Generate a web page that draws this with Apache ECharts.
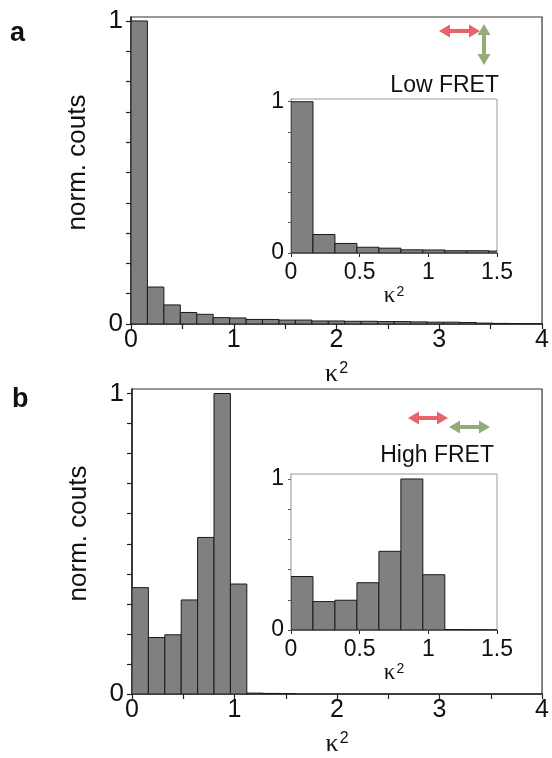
<!DOCTYPE html>
<html>
<head>
<meta charset="utf-8">
<script src="https://cdn.jsdelivr.net/npm/echarts@6/dist/echarts.min.js"></script>
<style>
  html, body { margin: 0; padding: 0; background: #fff; }
  #chart { width: 552px; height: 758px; }
</style>
</head>
<body>
<div id="chart"></div>
<script>
// ---- data ----
const binWidth = 0.16;
const binStarts = [0, 0.16, 0.32, 0.48, 0.64, 0.80, 0.96, 1.12, 1.28, 1.44, 1.60, 1.76, 1.92,
  2.08, 2.24, 2.40, 2.56, 2.72, 2.88, 3.04, 3.20, 3.36, 3.52, 3.68, 3.84];
const lowFretCounts = [1.0, 0.122, 0.063, 0.038, 0.032, 0.021, 0.020, 0.015, 0.015, 0.013, 0.013,
  0.010, 0.010, 0.009, 0.009, 0.008, 0.008, 0.007, 0.006, 0.006, 0.005, 0.003, 0.002, 0.001, 0.0005];
const highFretCounts = [0.354, 0.188, 0.197, 0.313, 0.521, 1.0, 0.366, 0.003, 0.002, 0.001, 0, 0,
  0, 0, 0, 0, 0, 0, 0, 0, 0, 0, 0, 0, 0];
const mainXTicks = [0, 0.5, 1, 1.5, 2, 2.5, 3, 3.5, 4];
const mainXLabels = [0, 1, 2, 3, 4];
const mainYTicks = [0, 0.1, 0.2, 0.3, 0.4, 0.5, 0.6, 0.7, 0.8, 0.9, 1.0];
const yLabels = [0, 1];
const insetXTicks = [0, 0.5, 1, 1.5];
const insetYTicks = [0, 0.2, 0.4, 0.6, 0.8, 1.0];
const panelLabels = ['a', 'b'];
const fretLabels = ['Low FRET', 'High FRET'];
const yName = 'norm. couts';

// ---- helpers ----
const FONT = '"Liberation Sans", Arial, sans-serif';
const TXT = '#111';

function histData(counts) {
  return binStarts.map((s, i) => [s, s + binWidth, counts[i]]);
}

function renderBar(params, api) {
  const x0 = api.value(0), x1 = api.value(1), y = api.value(2);
  if (!(y > 0)) return null;
  const p0 = api.coord([x0, y]);
  const p1 = api.coord([x1, 0]);
  return {
    type: 'rect',
    shape: { x: p0[0], y: p0[1], width: p1[0] - p0[0], height: p1[1] - p0[1] },
    style: { fill: '#808080', stroke: '#1a1a1a', lineWidth: 1 }
  };
}

const kappaName = (size) => ({
  name: '{k|κ}{s|2}',
  nameLocation: 'middle',
  nameTextStyle: {
    rich: {
      k: { fontFamily: '"Liberation Serif", "DejaVu Serif", serif', fontSize: size, color: TXT, verticalAlign: 'bottom' },
      s: { fontFamily: FONT, fontSize: Math.round(size * 0.6), color: TXT, verticalAlign: 'top', padding: [0, 0, 0, 1] }
    }
  }
});

function mainX(gridIndex) {
  return Object.assign({
    type: 'value', gridIndex, min: 0, max: 4, interval: 1,
    axisLine: { show: true, onZero: false, lineStyle: { color: '#222', width: 1.5 } },
    axisTick: { show: true, length: 5, lineStyle: { color: '#222', width: 1.2 }, customValues: mainXTicks },
    axisLabel: { fontFamily: FONT, fontSize: 25, color: TXT, margin: 4, customValues: mainXLabels },
    splitLine: { show: false },
    nameGap: 37
  }, kappaName(26));
}
function mainY(gridIndex, max) {
  return {
    type: 'value', gridIndex, min: 0, max: max,
    axisLine: { show: true, onZero: false, lineStyle: { color: '#222', width: 1.5 } },
    axisTick: { show: true, length: 5, lineStyle: { color: '#222', width: 1.2 }, customValues: mainYTicks },
    axisLabel: { fontFamily: FONT, fontSize: 26, color: TXT, margin: 8, customValues: yLabels },
    splitLine: { show: false },
    name: yName, nameLocation: 'middle', nameGap: 40,
    nameTextStyle: { fontFamily: FONT, fontSize: 26, color: TXT, padding: [0, 0, 0, 16] }
  };
}
function insetX(gridIndex) {
  return Object.assign({
    type: 'value', gridIndex, min: 0, max: 1.5, interval: 0.5,
    axisLine: { show: true, onZero: false, lineStyle: { color: '#222', width: 1.2 } },
    axisTick: { show: true, length: 4, lineStyle: { color: '#222', width: 1 }, customValues: insetXTicks },
    axisLabel: { fontFamily: FONT, fontSize: 23, color: TXT, margin: 8, customValues: insetXTicks,
      formatter: v => String(v) },
    splitLine: { show: false },
    nameGap: 24
  }, kappaName(23));
}
function insetY(gridIndex, max) {
  return {
    type: 'value', gridIndex, min: 0, max: max,
    axisLine: { show: true, onZero: false, lineStyle: { color: '#222', width: 1.2 } },
    axisTick: { show: true, length: 3, lineStyle: { color: '#555', width: 1 }, customValues: insetYTicks },
    axisLabel: { fontFamily: FONT, fontSize: 23, color: TXT, margin: 7, customValues: yLabels },
    splitLine: { show: false }
  };
}

function doubleArrow(x1, y1, x2, y2, color) {
  const dx = x2 - x1, dy = y2 - y1;
  const L = Math.sqrt(dx * dx + dy * dy);
  const ux = dx / L, uy = dy / L, nx = -uy, ny = ux;
  const head = 11, hw = 6.5, sw = 2;
  const pt = (a, b) => [x1 + ux * a + nx * b, y1 + uy * a + ny * b];
  const points = [
    pt(0, 0), pt(head, hw), pt(head, sw), pt(L - head, sw), pt(L - head, hw), pt(L, 0),
    pt(L - head, -hw), pt(L - head, -sw), pt(head, -sw), pt(head, -hw)
  ];
  return { type: 'polygon', shape: { points }, style: { fill: color }, z: 100 };
}

const RED = '#e8636b';
const GREEN = '#93ac78';

const chart = echarts.init(document.getElementById('chart'), null, { renderer: 'canvas' });
chart.setOption({
  backgroundColor: '#fff',
  animation: false,
  grid: [
    { left: 131, top: 17, width: 414, height: 307, show: true, borderColor: '#333', borderWidth: 1.2, backgroundColor: '#fff' },
    { left: 291, top: 99, width: 206, height: 154, show: true, borderColor: '#9a9a9a', borderWidth: 1, backgroundColor: '#fff', z: 5 },
    { left: 132, top: 389, width: 414, height: 307, show: true, borderColor: '#333', borderWidth: 1.2, backgroundColor: '#fff' },
    { left: 291, top: 474, width: 206, height: 156, show: true, borderColor: '#9a9a9a', borderWidth: 1, backgroundColor: '#fff', z: 5 }
  ],
  xAxis: [mainX(0), insetX(1), mainX(2), insetX(3)],
  yAxis: [mainY(0, 1.013), insetY(1, 1.018), mainY(2, 1.015), insetY(3, 1.033)],
  series: [
    { type: 'custom', xAxisIndex: 0, yAxisIndex: 0, renderItem: renderBar, data: histData(lowFretCounts), clip: true, encode: { x: [0, 1], y: 2 } },
    { type: 'custom', xAxisIndex: 1, yAxisIndex: 1, renderItem: renderBar, data: histData(lowFretCounts), clip: true, encode: { x: [0, 1], y: 2 }, z: 6 },
    { type: 'custom', xAxisIndex: 2, yAxisIndex: 2, renderItem: renderBar, data: histData(highFretCounts), clip: true, encode: { x: [0, 1], y: 2 } },
    { type: 'custom', xAxisIndex: 3, yAxisIndex: 3, renderItem: renderBar, data: histData(highFretCounts), clip: true, encode: { x: [0, 1], y: 2 }, z: 6 }
  ],
  graphic: [
    { type: 'text', left: 10, top: 20, style: { text: panelLabels[0], font: 'bold 27px ' + FONT, fill: TXT } },
    { type: 'text', left: 12, top: 386, style: { text: panelLabels[1], font: 'bold 27px ' + FONT, fill: TXT } },
    { type: 'text', x: 499, y: 86, style: { text: fretLabels[0], font: '23px ' + FONT, fill: TXT, textAlign: 'right', textVerticalAlign: 'middle' } },
    { type: 'text', x: 494, y: 456, style: { text: fretLabels[1], font: '23px ' + FONT, fill: TXT, textAlign: 'right', textVerticalAlign: 'middle' } },
    doubleArrow(439, 31, 480, 31, RED),
    doubleArrow(484, 24, 484, 65, GREEN),
    doubleArrow(408, 418, 448, 418, RED),
    doubleArrow(449, 427, 490, 427, GREEN)
  ]
});
</script>
</body>
</html>
